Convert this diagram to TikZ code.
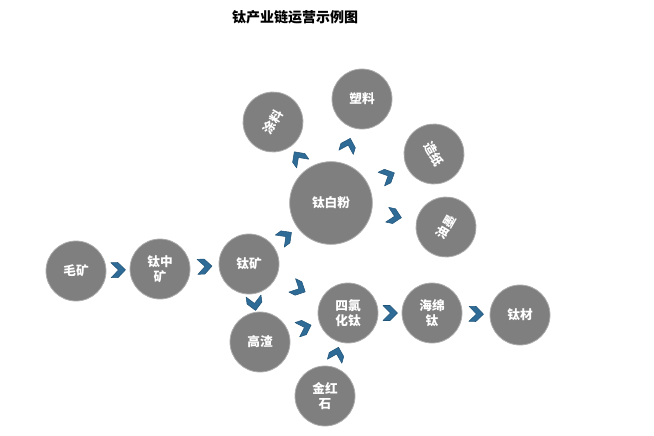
\documentclass[tikz,border=0pt]{standalone}
\usepackage{fontspec}
\setmainfont{Noto Sans CJK SC}
\usetikzlibrary{decorations.markings}
\definecolor{nodegray}{HTML}{7F7F7F}
\definecolor{chevblue}{HTML}{2E6B96}
\definecolor{chevedge}{HTML}{22557A}

\begin{document}
\begin{tikzpicture}[x=0.75pt,y=-0.75pt,
  proc/.style={circle, fill=nodegray, draw=gray!65, line width=0.6pt,
               minimum size=45pt, inner sep=0pt, text=white, align=center,
               font=\bfseries\fontsize{9.5}{11.5}\selectfont},
  bigproc/.style={proc, minimum size=62pt},
  flow/.style={decorate, decoration={markings, mark=at position 0.5 with {
      \filldraw[fill=chevblue, draw=chevedge, line width=0.4pt, line join=round]
        (-7,-7.5) -- (0,-7.5) -- (7.5,0) -- (0,7.5) -- (-7,7.5) -- (0.5,0) -- cycle;}}}]

\useasboundingbox (0,0) rectangle (654,436);

\node[font=\bfseries\fontsize{10.5}{12}\selectfont] (title) at (295,17) {钛产业链运营示例图};

\node[proc] (maokuang) at (76,271) {毛矿};
\node[proc] (zhongkuang) at (160,269) {钛中\\矿};
\node[proc] (taikuang) at (249,264) {钛矿};
\node[bigproc] (taibai) at (331,203) {钛白粉};
\node[proc, rotate=60] (tuliao) at (273,122) {涂料};
\node[proc] (suliao) at (362,99) {塑料};
\node[proc, rotate=-60] (zaozhi) at (434,154) {造纸};
\node[proc, rotate=60] (youmo) at (446,227) {油墨};
\node[proc] (gaozha) at (260,342) {高渣};
\node[proc] (silv) at (348,313) {四氯\\化钛};
\node[proc] (haimian) at (432,313) {海绵\\钛};
\node[proc] (taicai) at (520,315) {钛材};
\node[proc] (jinhong) at (325,396) {金红\\石};

\path[flow] (maokuang) -- (zhongkuang);
\path[flow] (zhongkuang) -- (taikuang);
\path[flow] (taikuang) -- (taibai);
\path[flow] (taikuang) -- (silv);
\path[flow] (taikuang) -- (gaozha);
\path[flow] (gaozha) -- (silv);
\path[flow] (jinhong) -- (silv);
\path[flow] (silv) -- (haimian);
\path[flow] (haimian) -- (taicai);
\path[flow] (taibai) -- (tuliao);
\path[flow] (taibai) -- (suliao);
\path[flow] (taibai) -- (zaozhi);
\path[flow] (taibai) -- (youmo);

\end{tikzpicture}
\end{document}
